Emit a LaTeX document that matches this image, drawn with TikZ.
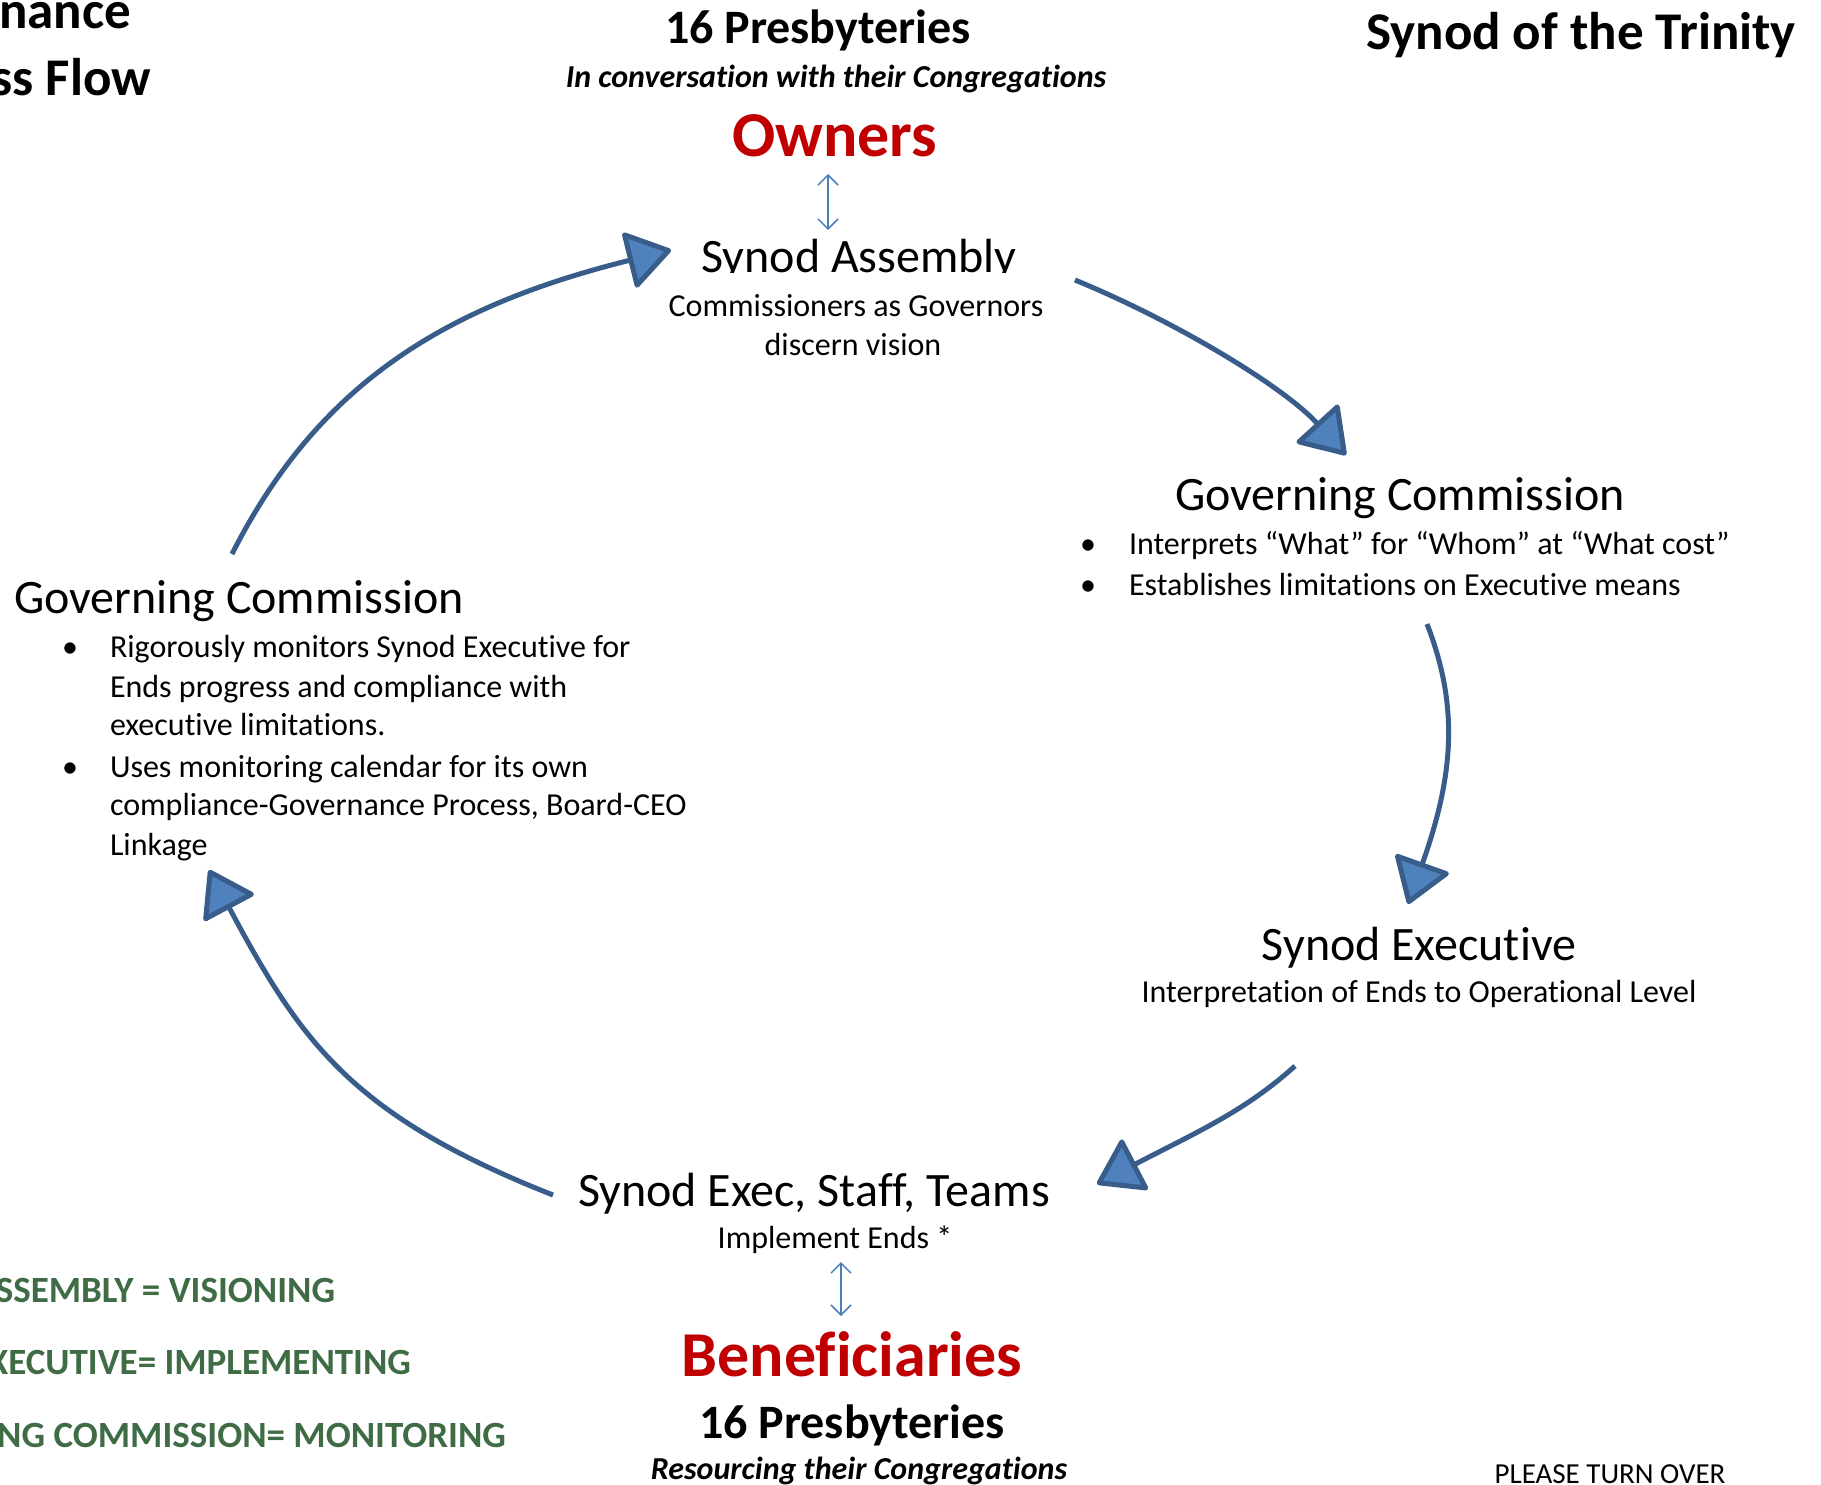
\documentclass[tikz,border=0pt]{standalone}
\usepackage{fontspec}
\setmainfont{Carlito}[Ligatures={NoCommon,NoRequired,NoContextual,NoRare}]
\usetikzlibrary{arrows.meta}
\newcommand{\tix}{t\kern0pt i}
\definecolor{lineblue}{HTML}{385D8A}
\definecolor{fillblue}{HTML}{4F81BD}
\definecolor{thinblue}{HTML}{4A7EBB}
\definecolor{ownred}{HTML}{C00000}
\definecolor{rolegreen}{HTML}{3F6B45}
\begin{document}
\begin{tikzpicture}[x=0.5pt,y=-0.5pt,
  txt/.style={inner sep=0pt, outer sep=0pt},
  titlef/.style={txt, font=\fontsize{26.5}{32}\selectfont\bfseries},
  headf/.style={txt, font=\fontsize{24}{29}\selectfont\bfseries},
  subf/.style={txt, font=\fontsize{16}{19.5}\selectfont\bfseries\itshape},
  redf/.style={txt, text=ownred, font=\fontsize{32}{39}\selectfont\bfseries},
  bigf/.style={txt, font=\fontsize{24}{29}\selectfont},
  smallf/.style={txt, font=\fontsize{16}{19.5}\selectfont},
  greenf/.style={txt, text=rolegreen, font=\fontsize{18.5}{22}\selectfont\bfseries},
  notef/.style={txt, font=\fontsize{14.5}{17}\selectfont},
  flow/.style={draw=lineblue, line width=2.5pt,
    -{Triangle[length=23pt,width=30pt,fill=fillblue,round]}},
  link/.style={draw=thinblue, line width=0.75pt,
    {Straight Barb[length=5pt,width=10pt]}-{Straight Barb[length=5pt,width=10pt]}}
]
\useasboundingbox (0,0) rectangle (1821,1484);
\clip (0,0) rectangle (1821,1484);

% titles
\node[titlef, anchor=base east] (ttl1) at (131,28) {nance};
\node[titlef, anchor=base east] (ttl2) at (151,95) {ss Flow};
\node[titlef, anchor=base] (synod) at (1581,49) {Synod of the Trinity};

% top
\node[headf, anchor=base] (presTop) at (818,43) {16 Presbyteries};
\node[subf, anchor=base] (convTop) at (836,87) {In conversa\tix on with their Congrega\tix ons};
\node[redf, anchor=base] (owners) at (835,156) {Owners};

% Synod Assembly (descenders clipped)
\begin{scope}
\clip (650,200) rectangle (1060,272.5);
\node[bigf, anchor=base] (assembly) at (859,272) {Synod Assembly};
\end{scope}
\node[smallf, anchor=base] (asm1) at (856,316) {Commissioners as Governors};
\node[smallf, anchor=base] (asm2) at (853,355) {discern vision};

% right Governing Commission
\node[bigf, anchor=base west] (gcr) at (1175,510) {Governing Commission};
\node[smallf, anchor=base] (gcrb1) at (1088,554) {\textbullet};
\node[smallf, anchor=base west] (gcr1) at (1129,554) {Interprets “What” for “Whom” at “What cost”};
\node[smallf, anchor=base] (gcrb2) at (1088,595) {\textbullet};
\node[smallf, anchor=base west] (gcr2) at (1129,595) {Establishes limita\tix ons on Execu\tix ve means};

% left Governing Commission
\node[bigf, anchor=base west] (gcl) at (14,613) {Governing Commission};
\node[smallf, anchor=base] (gclb1) at (70,657) {\textbullet};
\node[smallf, anchor=base west] (gcl1) at (110,657) {Rigorously monitors Synod Execu\tix ve for};
\node[smallf, anchor=base west] (gcl2) at (110,697) {Ends progress and compliance with};
\node[smallf, anchor=base west] (gcl3) at (110,735) {execu\tix ve limita\tix ons.};
\node[smallf, anchor=base] (gclb2) at (70,777) {\textbullet};
\node[smallf, anchor=base west] (gcl4) at (110,777) {Uses monitoring calendar for its own};
\node[smallf, anchor=base west] (gcl5) at (110,815) {compliance-Governance Process, Board-CEO};
\node[smallf, anchor=base west] (gcl6) at (110,855) {Linkage};

% Synod Executive
\node[bigf, anchor=base] (exec) at (1419,960) {Synod Execu\tix ve};
\node[smallf, anchor=base] (exec1) at (1419,1002) {Interpreta\tix on of Ends to Opera\tix onal Level};

% Synod Exec, Staff, Teams
\node[bigf, anchor=base] (staff) at (814,1206) {Synod Exec, Staff, Teams};
\node[smallf, anchor=base] (staff1) at (835,1248) {Implement Ends *};

% bottom
\node[redf, anchor=base] (benef) at (852,1376) {Beneficiaries};
\node[headf, anchor=base] (presBot) at (852,1438) {16 Presbyteries};
\node[subf, anchor=base] (resBot) at (859,1479) {Resourcing their Congrega\tix ons};
\node[notef, anchor=base] (turn) at (1610,1483) {PLEASE TURN OVER};

% green roles
\node[greenf, anchor=base east] (role1) at (335,1302) {SSEMBLY = VISIONING};
\node[greenf, anchor=base east] (role2) at (411,1374) {XECUTIVE= IMPLEMENTING};
\node[greenf, anchor=base east] (role3) at (506,1447) {NG COMMISSION= MONITORING};

% connector end points
\coordinate (a1s) at (1075,280);  \coordinate (a1e) at (1346,455);
\coordinate (a2s) at (1427,624);  \coordinate (a2e) at (1408,904);
\coordinate (a3s) at (1295,1066); \coordinate (a3e) at (1097,1184);
\coordinate (a4s) at (553,1195);  \coordinate (a4e) at (209,870);
\coordinate (a5s) at (232,554);   \coordinate (a5e) at (671,250);
\coordinate (l1s) at (828,174);   \coordinate (l1e) at (828,230);
\coordinate (l2s) at (841,1262);  \coordinate (l2e) at (841,1316);

% cycle arrows
\draw[flow] (a1s) .. controls (1177,322) and (1284,387) .. (a1e);
\draw[flow] (a2s) .. controls (1458,704) and (1455,772) .. (a2e);
\draw[flow] (a3s) .. controls (1245,1111) and (1199,1131) .. (a3e);
\draw[flow] (a4s) .. controls (350,1115) and (300,1040) .. (a4e);
\draw[flow] (a5s) .. controls (320,380) and (450,305) .. (a5e);

% small two-way links
\draw[link] (l1s) -- (l1e);
\draw[link] (l2s) -- (l2e);
\end{tikzpicture}
\end{document}
